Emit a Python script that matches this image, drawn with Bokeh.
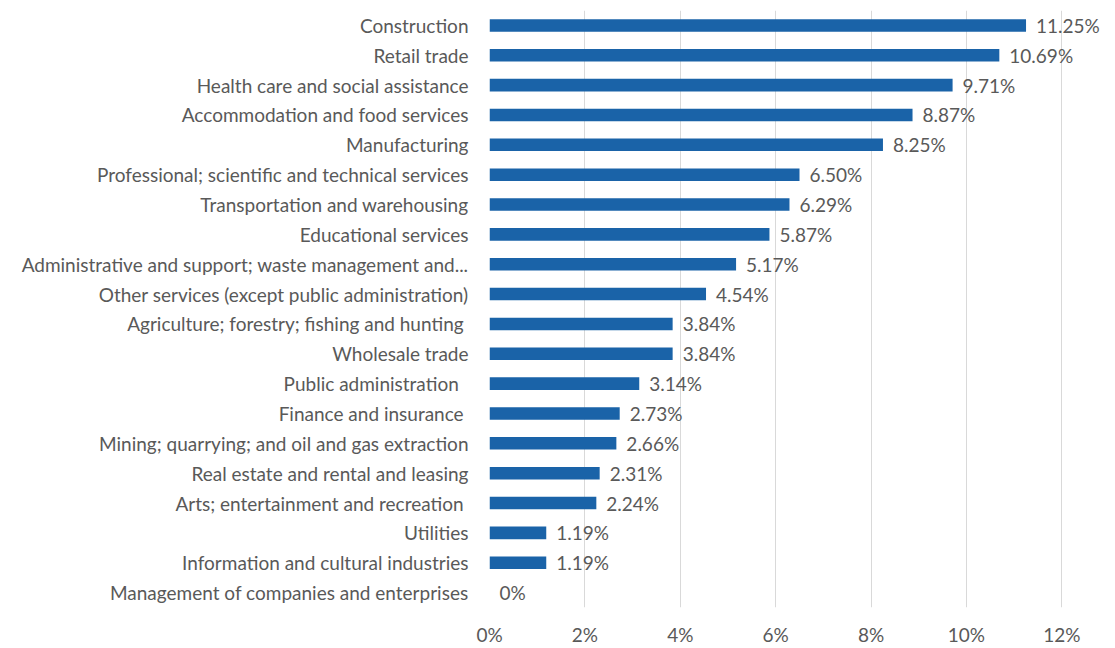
from bokeh.plotting import figure
from bokeh.models import ColumnDataSource, FactorRange, Range1d, FixedTicker, LabelSet
from bokeh.embed import file_html
from bokeh.resources import INLINE
from bokeh.core.properties import value

categories = [
    "Construction",
    "Retail trade",
    "Health care and social assistance",
    "Accommodation and food services",
    "Manufacturing",
    "Professional; scientific and technical services",
    "Transportation and warehousing",
    "Educational services",
    "Administrative and support; waste management and...",
    "Other services (except public administration)",
    "Agriculture; forestry; fishing and hunting ",
    "Wholesale trade",
    "Public   administration",
    "Finance and insurance ",
    "Mining; quarrying; and oil and gas extraction",
    "Real estate and rental and leasing",
    "Arts; entertainment and recreation ",
    "Utilities",
    "Information and cultural industries",
    "Management of companies and enterprises",
]
values = [11.25, 10.69, 9.71, 8.87, 8.25, 6.50, 6.29, 5.87, 5.17, 4.54,
          3.84, 3.84, 3.14, 2.73, 2.66, 2.31, 2.24, 1.19, 1.19, 0.0]
labels = ["11.25%", "10.69%", "9.71%", "8.87%", "8.25%", "6.50%", "6.29%", "5.87%",
          "5.17%", "4.54%", "3.84%", "3.84%", "3.14%", "2.73%", "2.66%", "2.31%",
          "2.24%", "1.19%", "1.19%", "0%"]
tick_values = [0, 2, 4, 6, 8, 10, 12]

FONT = "Lato"
FS = "19px"
TXT = "#595959"
BAR = "#1a63a8"

src = ColumnDataSource(dict(cat=categories, val=values, lab=labels))

p = figure(width=1112, height=648, output_backend="svg", toolbar_location=None,
           y_range=FactorRange(*list(reversed(categories)), range_padding=0),
           x_range=Range1d(0, 13),
           min_border_left=489, min_border_right=3, min_border_top=10, min_border_bottom=40)
p.outline_line_color = None

p.hbar(y="cat", right="val", left=0, height=0.42, source=src, fill_color=BAR, line_color=None)

lbl = LabelSet(x="val", y="cat", text="lab", source=src, x_offset=10,
               text_align="left", text_baseline="middle",
               text_font=value(FONT), text_font_size=FS, text_color=TXT)
p.add_layout(lbl)

p.xaxis.ticker = FixedTicker(ticks=tick_values)
p.xaxis.major_label_overrides = {t: f"{t}%" for t in tick_values}
p.xaxis.axis_line_color = None
p.xaxis.major_tick_line_color = None
p.xaxis.minor_tick_line_color = None
p.xaxis.major_label_standoff = 9
p.xaxis.major_label_text_font = FONT
p.xaxis.major_label_text_font_size = FS
p.xaxis.major_label_text_color = TXT

p.yaxis.axis_line_color = None
p.yaxis.major_tick_line_color = None
p.yaxis.minor_tick_line_color = None
p.yaxis.major_label_standoff = 15
p.yaxis.major_label_text_font = FONT
p.yaxis.major_label_text_font_size = FS
p.yaxis.major_label_text_color = TXT

p.xgrid.grid_line_color = "#d9d9d9"
p.xgrid.grid_line_width = 1
p.ygrid.grid_line_color = None

open("out.html", "w").write(file_html(p, INLINE))
